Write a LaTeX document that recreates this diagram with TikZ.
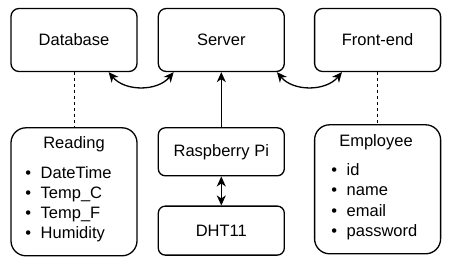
\documentclass[tikz,border=0pt]{standalone}
\usepackage{fontspec}
\setmainfont{Liberation Sans}
\usetikzlibrary{positioning,arrows.meta}

\tikzset{
	block/.style={draw, line width=1.3pt, rounded corners=8pt, minimum width=126pt, minimum height=63pt},
	entity/.style={draw, line width=1.3pt, rounded corners=15pt, minimum width=126pt, minimum height=128pt},
	field/.style={inner sep=0pt, anchor=base west},
	title/.style={inner sep=0pt, anchor=base},
	link/.style={line width=1.3pt, {Stealth[length=10pt,width=9pt,inset=3pt]}-{Stealth[length=10pt,width=9pt,inset=3pt]}},
	feed/.style={line width=1.3pt, -{Stealth[length=10pt,width=9pt,inset=3pt]}},
	relation/.style={line width=1pt, dash pattern=on 3pt off 3pt},
}

\begin{document}
\begin{tikzpicture}[x=1pt, y=-1pt, font=\fontsize{16.5}{20}\selectfont]
	\useasboundingbox (0,0) rectangle (452,273);

	% top row
	\node[block] (db) at (74,40) {Database};
	\node[block, right=20pt of db] (server) {Server};
	\node[block, right=29pt of server] (frontend) {Front-end};

	% hardware
	\node[block, minimum height=48pt, rounded corners=7pt, below=55pt of server] (rpi) {Raspberry Pi};
	\node[block, minimum height=49pt, rounded corners=7pt, below=29pt of rpi] (dht) {DHT11};

	% tables
	\node[entity, below=55pt of db] (reading) {};
	\node[entity, minimum height=129pt, below=52pt of frontend] (employee) {};

	\node[title] (reading-title) at (74,148.5) {Reading};
	\foreach \field [count=\i] in {DateTime,Temp\_C,Temp\_F,Humidity}
		\node[field] (reading-\i) at (40.5,{157.7+20.3*\i}) {\llap{\textbullet\hspace{9.5pt}}\field};

	\node[title] (employee-title) at (376,146) {Employee};
	\foreach \field [count=\i] in {id,name,email,password}
		\node[field] (employee-\i) at (346.5,{155+20.4*\i}) {\llap{\textbullet\hspace{9.5pt}}\field};

	% connections
	\draw[relation] (db) -- (reading);
	\draw[relation] (frontend) -- (employee);
	\draw[link] ([xshift=-29pt]db.south east) to[bend right=50] ([xshift=16pt]server.south west);
	\draw[link] ([xshift=-8pt]server.south east) to[bend right=50] ([xshift=28pt]frontend.south west);
	\draw[feed] (rpi) -- (server);
	\draw[link] (rpi) -- (dht);
\end{tikzpicture}
\end{document}
